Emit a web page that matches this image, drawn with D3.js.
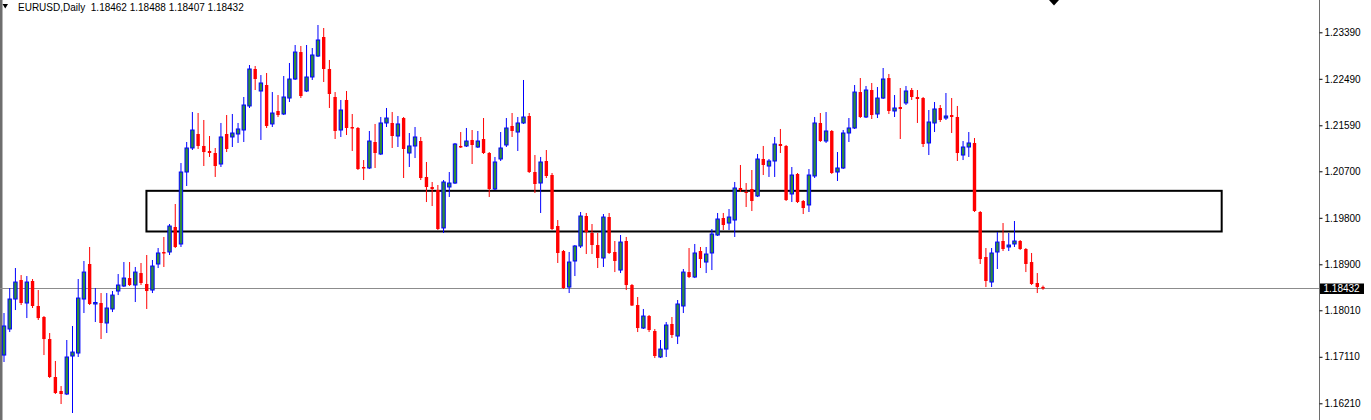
<!DOCTYPE html>
<html><head><meta charset="utf-8">
<script src="https://cdn.jsdelivr.net/npm/d3@7"></script>
<style>
html,body{margin:0;padding:0;background:#fff;}
svg{display:block;}
text{font-family:"Liberation Sans",Arial,sans-serif;}
</style></head>
<body><svg id="chart" width="1371" height="420"></svg>
<script>
const symbolTitle = "EURUSD,Daily";
const lastOHLC = ["1.18462", "1.18488", "1.18407", "1.18432"];
const tickLabels = ["1.23390","1.22490","1.21590","1.20700","1.19800","1.18900","1.18010","1.17110","1.16210"];
const currentPrice = 1.18432;
const zoneBars = [24.95, 213.3];
const zonePrices = [1.20322, 1.19535];

const opens = [
1.17144,1.17648,1.18228,1.18596,1.18151,1.18577,1.18093,1.17880,1.17454,1.16719,
1.16448,1.16390,1.17125,1.17183,1.18228,1.18906,1.18132,1.18151,1.17764,1.18035,
1.18383,1.18480,1.18634,1.18499,1.18731,1.18519,1.18402,1.18906,1.19138,1.19138,
1.19622,1.19293,1.20686,1.21151,1.21422,1.21190,1.21093,1.21054,1.20841,1.21422,
1.21364,1.21422,1.21499,1.21964,1.22680,1.22254,1.22370,1.21616,1.21867,1.21809,
1.22118,1.22486,1.23008,1.22254,1.22525,1.22931,1.23299,1.22680,1.22138,1.21499,
1.22080,1.21557,1.21538,1.20783,1.20764,1.21267,1.21035,1.21635,1.21635,1.21383,
1.21731,1.21054,1.21190,1.21286,1.20590,1.20396,1.20338,1.19603,1.20396,1.20473,
1.21190,1.21190,1.21306,1.21170,1.21325,1.21054,1.20357,1.20938,1.21209,1.21577,
1.21460,1.21635,1.21770,1.20686,1.20473,1.20899,1.20628,1.19641,1.19157,1.18460,
1.18964,1.19254,1.19835,1.19506,1.19273,1.19022,1.19815,1.19138,1.18789,1.19351,
1.18499,1.18112,1.17667,1.17899,1.17609,1.17106,1.17260,1.17745,1.17512,1.18093,
1.18750,1.18654,1.19157,1.18944,1.19119,1.19467,1.19796,1.19699,1.19757,1.20377,
1.20299,1.20357,1.20222,1.20938,1.20802,1.20899,1.21228,1.21190,1.20261,1.20648,
1.20125,1.20048,1.20609,1.21635,1.21286,1.21480,1.20686,1.20764,1.21441,1.21538,
1.22234,1.21751,1.22273,1.21809,1.22118,1.22505,1.21867,1.21944,1.22022,1.22273,
1.22138,1.22118,1.21248,1.21635,1.21925,1.21731,1.21789,1.21751,1.21015,1.21170,
1.21248,1.19912,1.19041,1.18557,1.19138,1.19351,1.19235,1.19293,1.19351,1.19196,
1.18944,1.18538,1.18462];
const highs = [
1.17957,1.18441,1.18828,1.18692,1.18673,1.18615,1.18402,1.17899,1.17570,1.17029,
1.16544,1.17435,1.17706,1.18615,1.18964,1.19235,1.18441,1.18344,1.18344,1.18383,
1.18712,1.18944,1.18944,1.18848,1.18925,1.19080,1.18983,1.19215,1.19429,1.19680,
1.20067,1.20860,1.21267,1.21847,1.21828,1.21693,1.21383,1.21151,1.21635,1.21789,
1.21809,1.21635,1.22138,1.22757,1.22738,1.22563,1.22602,1.22234,1.22176,1.22544,
1.22796,1.23144,1.23125,1.23144,1.23086,1.23531,1.23473,1.22854,1.22234,1.22080,
1.22254,1.21809,1.21557,1.20918,1.21480,1.21616,1.21751,1.21925,1.21847,1.21770,
1.21751,1.21441,1.21557,1.21364,1.20880,1.20493,1.20435,1.20531,1.20686,1.21248,
1.21460,1.21538,1.21499,1.21480,1.21731,1.21073,1.20977,1.21460,1.21731,1.21828,
1.21751,1.22467,1.21828,1.21015,1.20977,1.21112,1.20667,1.19757,1.19177,1.19138,
1.19273,1.19912,1.19893,1.19680,1.19506,1.19873,1.19893,1.19351,1.19467,1.19429,
1.18519,1.18267,1.18035,1.17919,1.17648,1.17435,1.17783,1.17880,1.18209,1.18809,
1.19215,1.19293,1.19235,1.19235,1.19583,1.19893,1.19893,1.19970,1.20493,1.20822,
1.20473,1.20725,1.21035,1.21190,1.20938,1.21364,1.21519,1.21209,1.20783,1.20667,
1.20144,1.20744,1.21751,1.21828,1.21847,1.21499,1.21073,1.21499,1.21731,1.22370,
1.22505,1.22351,1.22409,1.22331,1.22699,1.22583,1.22176,1.22312,1.22351,1.22312,
1.22273,1.22138,1.21886,1.22041,1.21983,1.22215,1.22118,1.21964,1.21286,1.21460,
1.21344,1.19931,1.19215,1.19215,1.19525,1.19699,1.19506,1.19738,1.19370,1.19215,
1.19119,1.18731,1.18488];
const lows = [
1.17009,1.17589,1.18015,1.18112,1.17860,1.18054,1.17822,1.17144,1.16699,1.16390,
1.16196,1.16370,1.16022,1.17106,1.17957,1.18112,1.17783,1.17454,1.17570,1.17976,
1.18305,1.18460,1.18480,1.18170,1.18499,1.18035,1.18344,1.18828,1.18848,1.19080,
1.19215,1.19235,1.20415,1.21112,1.21132,1.20802,1.20977,1.20590,1.20783,1.21073,
1.21170,1.21248,1.21267,1.21925,1.22273,1.21306,1.21538,1.21557,1.21750,1.21789,
1.22041,1.22467,1.22118,1.22234,1.22467,1.22912,1.22428,1.21925,1.21325,1.21364,
1.21402,1.21093,1.20725,1.20531,1.20744,1.20764,1.21015,1.21557,1.21151,1.21170,
1.20570,1.20783,1.20957,1.20531,1.20105,1.20028,1.19564,1.19506,1.20203,1.20454,
1.21151,1.21170,1.20841,1.21151,1.21035,1.20203,1.20338,1.20899,1.21170,1.21364,
1.21093,1.21616,1.20667,1.20280,1.19893,1.20570,1.19564,1.18925,1.18422,1.18344,
1.18673,1.19215,1.19099,1.19099,1.18828,1.18848,1.19099,1.18750,1.18731,1.18402,
1.18093,1.17589,1.17648,1.17589,1.17086,1.17086,1.17106,1.17474,1.17357,1.17957,
1.18634,1.18634,1.18828,1.18731,1.18789,1.19448,1.19564,1.19564,1.19429,1.20299,
1.20009,1.19931,1.20203,1.20628,1.20590,1.20590,1.21054,1.20125,1.20105,1.20086,
1.19873,1.19912,1.20570,1.21267,1.21248,1.20648,1.20512,1.20744,1.21267,1.21519,
1.21731,1.21731,1.21712,1.21731,1.22099,1.21809,1.21751,1.21325,1.21983,1.22080,
1.21635,1.21170,1.21015,1.21460,1.21654,1.21693,1.21441,1.20899,1.20918,1.20977,
1.19912,1.18906,1.18460,1.18460,1.18809,1.19157,1.19157,1.19235,1.19177,1.18750,
1.18499,1.18344,1.18407];
const closes = [
1.17706,1.18228,1.18557,1.18151,1.18557,1.18093,1.17860,1.17454,1.16719,1.16409,
1.16390,1.17106,1.17202,1.18247,1.18750,1.18132,1.18161,1.17764,1.18054,1.18305,
1.18499,1.18634,1.18499,1.18750,1.18538,1.18383,1.18867,1.19119,1.19109,1.19641,
1.19235,1.20686,1.21151,1.21499,1.21190,1.21073,1.21054,1.20802,1.21364,1.21132,
1.21441,1.21519,1.21983,1.22680,1.22486,1.22409,1.21577,1.21828,1.21789,1.22138,
1.22486,1.23008,1.22157,1.22525,1.22951,1.23241,1.22680,1.22196,1.21480,1.21886,
1.21538,1.21528,1.20744,1.20754,1.21286,1.21054,1.21635,1.21731,1.21383,1.21616,
1.21132,1.21190,1.21364,1.20570,1.20396,1.20357,1.19583,1.20493,1.20473,1.21228,
1.21161,1.21286,1.21209,1.21286,1.21054,1.20357,1.20880,1.21151,1.21538,1.21480,
1.21635,1.21751,1.20686,1.20454,1.20880,1.20609,1.19583,1.19119,1.18441,1.18944,
1.19254,1.19835,1.19525,1.19273,1.19022,1.19815,1.19119,1.18964,1.19331,1.18499,
1.18102,1.17667,1.17899,1.17628,1.17125,1.17260,1.17725,1.17532,1.18132,1.18750,
1.18654,1.19119,1.19002,1.19099,1.19486,1.19777,1.19661,1.19815,1.20377,1.20338,
1.20280,1.20125,1.20938,1.20822,1.20899,1.21228,1.21190,1.20144,1.20628,1.20105,
1.19989,1.20628,1.21635,1.21286,1.21480,1.20667,1.20764,1.21441,1.21538,1.22234,
1.21751,1.22273,1.21789,1.22118,1.22486,1.21867,1.21925,1.21906,1.22254,1.22138,
1.22099,1.21228,1.21654,1.21906,1.21693,1.21770,1.21751,1.21054,1.21170,1.21248,
1.19931,1.19002,1.18577,1.19119,1.19331,1.19196,1.19273,1.19351,1.19196,1.18906,
1.18519,1.18460,1.18432];

const W = 1371, H = 420;
const axisX = 1319.5;
const svg = d3.select("#chart");

const candles = d3.range(opens.length).map(i => ({i, o: opens[i], h: highs[i], l: lows[i], c: closes[i]}));

const x = d3.scaleLinear().domain([0, candles.length - 1]).range([4, 1043]);
const tickVals = tickLabels.map(Number);
const y = d3.scaleLinear().domain([1.16210, 1.23390]).range([403.3, 32.3]);

// left border
svg.append("rect").attr("x", 0).attr("y", 0).attr("width", 2.5).attr("height", H).attr("fill", "#6e6e6e");

// current price line
svg.append("line").attr("x1", 0).attr("x2", axisX).attr("y1", Math.round(y(currentPrice)) + 0.5).attr("y2", Math.round(y(currentPrice)) + 0.5)
  .attr("stroke", "#8c8c8c").attr("stroke-width", 1);

// zone rectangle
svg.append("rect")
  .attr("x", x(zoneBars[0])).attr("y", y(zonePrices[0]))
  .attr("width", x(zoneBars[1]) - x(zoneBars[0]))
  .attr("height", y(zonePrices[1]) - y(zonePrices[0]))
  .attr("fill", "none").attr("stroke", "#000").attr("stroke-width", 2);

const bw = 3.4;
const g = svg.append("g");
// wicks
g.selectAll("line.wick").data(candles).join("line")
  .attr("class", "wick")
  .attr("x1", d => x(d.i)).attr("x2", d => x(d.i))
  .attr("y1", d => y(d.h)).attr("y2", d => y(d.l))
  .attr("stroke", d => d.c >= d.o ? "#0000ff" : "#ff0000")
  .attr("stroke-width", 1);
// bodies
g.selectAll("rect.body").data(candles).join("rect")
  .attr("class", "body")
  .attr("x", d => x(d.i) - bw / 2)
  .attr("y", d => y(Math.max(d.o, d.c)))
  .attr("width", bw)
  .attr("height", d => Math.max(1, Math.abs(y(d.o) - y(d.c))))
  .attr("fill", d => d.c >= d.o ? "#2e8b3e" : "#ff0000")
  .attr("stroke", d => d.c >= d.o ? "#0000ff" : "none")
  .attr("stroke-width", 1);

// right axis
svg.append("line").attr("x1", axisX).attr("x2", axisX).attr("y1", 0).attr("y2", H).attr("stroke", "#6e6e6e");
const axis = d3.axisRight(y).tickValues(tickVals).tickFormat((d, k) => tickLabels[k]).tickSize(3).tickPadding(2);
const ag = svg.append("g").attr("transform", `translate(${axisX},0)`).call(axis);
ag.select(".domain").remove();
ag.selectAll(".tick line").attr("stroke", "#000");
ag.selectAll(".tick text").attr("font-family", "Liberation Sans, Arial, sans-serif").attr("font-size", 10).attr("fill", "#000");

// current price label
const cy = y(currentPrice);
svg.append("rect").attr("x", axisX + 0.5).attr("y", cy - 5).attr("width", 44).attr("height", 10.5).attr("fill", "#000");
svg.append("text").attr("x", axisX + 4).attr("y", cy).attr("dy", "0.35em").attr("font-size", 10).attr("fill", "#fff").text(lastOHLC[3]);

// title
svg.append("path").attr("d", "M2.5,4 L8,4 L5.25,8.5 Z").attr("fill", "#000");
svg.append("text").attr("x", 18).attr("y", 11).attr("font-size", 10).attr("fill", "#000")
  .attr("xml:space", "preserve")
  .text(symbolTitle + "  " + lastOHLC.join(" "));

// top marker
svg.append("path").attr("d", "M1049,0 L1059,0 L1054,5.5 Z").attr("fill", "#000");
</script></body></html>
